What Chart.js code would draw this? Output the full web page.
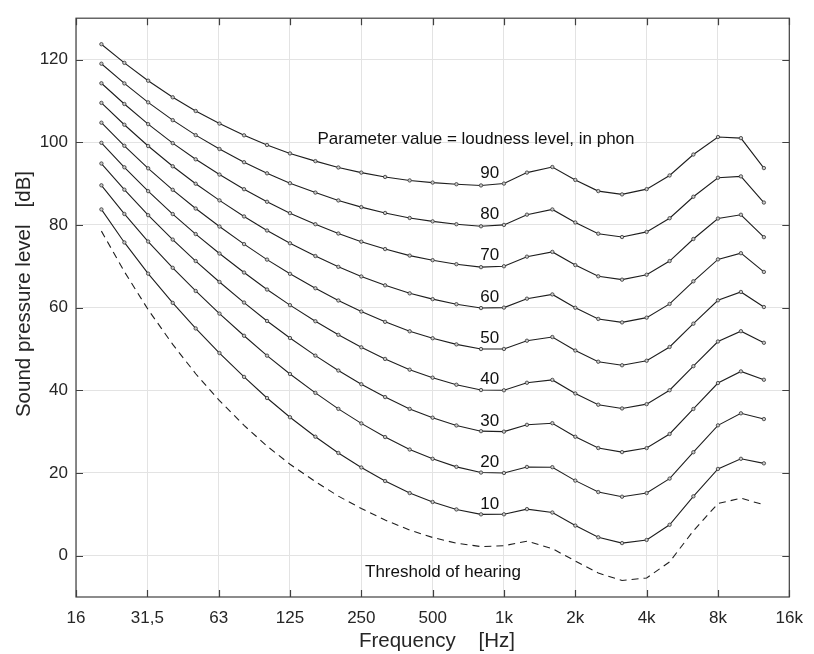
<!DOCTYPE html>
<html>
<head>
<meta charset="utf-8">
<script src="https://cdn.jsdelivr.net/npm/chart.js@4/dist/chart.umd.min.js"></script>
<style>
  body { margin: 0; background: #fff; }
  #wrap { width: 814px; height: 654px; }
</style>
</head>
<body>
<div id="wrap"><canvas id="plot" width="814" height="654"></canvas></div>
<script>
// frequencias (terços de oitava)
const freqs = [20, 25, 31.5, 40, 50, 63, 80, 100, 125, 160, 200, 250, 315, 400, 500, 630, 800, 1000, 1250, 1600, 2000, 2500, 3150, 4000, 5000, 6300, 8000, 10000, 12500];

const phonLevels = [10, 20, 30, 40, 50, 60, 70, 80, 90];

const phon10 = [83.75, 75.76, 68.21, 61.14, 54.96, 49.01, 43.24, 38.13, 33.48, 28.77, 24.84, 21.33, 18.05, 15.14, 12.98, 11.18, 9.99, 10.0, 11.26, 10.43, 7.27, 4.45, 3.04, 3.80, 7.46, 14.35, 20.98, 23.43, 22.33];
const phon20 = [89.58, 82.65, 75.98, 69.62, 64.02, 58.55, 53.19, 48.38, 43.94, 39.37, 35.51, 31.99, 28.69, 25.67, 23.43, 21.48, 20.10, 20.0, 21.46, 21.40, 18.15, 15.38, 14.26, 15.14, 18.64, 25.02, 31.52, 34.43, 33.04];
const phon30 = [94.85, 88.52, 82.36, 76.45, 71.26, 66.20, 61.22, 56.76, 52.64, 48.38, 44.78, 41.47, 38.36, 35.50, 33.37, 31.49, 30.11, 30.0, 31.65, 32.04, 28.76, 26.03, 25.05, 26.02, 29.43, 35.48, 41.75, 44.57, 42.55];
const phon40 = [99.85, 93.94, 88.17, 82.63, 77.79, 73.08, 68.48, 64.37, 60.59, 56.70, 53.41, 50.40, 47.58, 44.98, 43.05, 41.34, 40.06, 40.0, 41.82, 42.51, 39.23, 36.51, 35.61, 36.65, 40.01, 45.83, 51.80, 54.29, 51.49];
const phon50 = [104.72, 99.14, 93.69, 88.49, 83.96, 79.61, 75.36, 71.61, 68.17, 64.68, 61.72, 59.04, 56.55, 54.27, 52.59, 51.10, 49.98, 50.0, 51.99, 52.88, 49.62, 46.91, 46.05, 47.15, 50.48, 56.11, 61.76, 63.78, 60.14];
const phon60 = [109.51, 104.23, 99.08, 94.18, 89.96, 85.94, 82.05, 78.65, 75.56, 72.47, 69.86, 67.53, 65.39, 63.45, 62.05, 60.82, 59.89, 60.0, 62.16, 63.19, 59.96, 57.26, 56.42, 57.57, 60.89, 66.36, 71.66, 73.16, 68.63];
const phon70 = [114.26, 109.25, 104.38, 99.78, 95.87, 92.18, 88.64, 85.60, 82.85, 80.17, 77.92, 75.94, 74.16, 72.58, 71.47, 70.50, 69.78, 70.0, 72.32, 73.47, 70.28, 67.58, 66.76, 67.95, 71.26, 76.59, 81.54, 82.46, 77.04];
const phon80 = [118.99, 114.23, 109.65, 105.34, 101.72, 98.36, 95.17, 92.48, 90.09, 87.82, 85.92, 84.31, 82.89, 81.68, 80.86, 80.17, 79.67, 80.0, 82.48, 83.74, 80.59, 77.88, 77.07, 78.31, 81.62, 86.81, 91.41, 91.74, 85.41];
const phon90 = [123.71, 119.20, 114.88, 110.87, 107.55, 104.51, 101.67, 99.33, 97.29, 95.43, 93.89, 92.65, 91.60, 90.76, 90.24, 89.84, 89.55, 90.0, 92.65, 94.00, 90.88, 88.18, 87.38, 88.66, 91.96, 97.02, 101.26, 100.99, 93.75];

// limiar de audição (tracejado)
const threshold = [78.5, 68.7, 59.5, 51.1, 44.0, 37.5, 31.5, 26.5, 22.1, 17.9, 14.4, 11.4, 8.6, 6.2, 4.4, 3.0, 2.2, 2.4, 3.5, 1.7, -1.3, -4.2, -6.0, -5.4, -1.5, 6.0, 12.6, 13.9, 12.3];

// eixos
const xTickValues = [15.625, 31.25, 62.5, 125, 250, 500, 1000, 2000, 4000, 8000, 16000];
const xTickLabels = ["16", "31,5", "63", "125", "250", "500", "1k", "2k", "4k", "8k", "16k"];
const yTickValues = [0, 20, 40, 60, 80, 100, 120];

const curves = [phon10, phon20, phon30, phon40, phon50, phon60, phon70, phon80, phon90];

const fonte = "'Liberation Sans', Arial, sans-serif";
const corTexto = "#262626";

const datasets = curves.map((vals, i) => ({
  label: phonLevels[i] + " phon",
  data: freqs.map((f, j) => ({ x: f, y: vals[j] })),
  borderColor: "#1e1e1e",
  borderWidth: 1.1,
  pointRadius: 1.7,
  pointBackgroundColor: "#c8c8c8",
  pointBorderColor: "#333",
  pointBorderWidth: 0.8,
  tension: 0,
}));

datasets.push({
  label: "Threshold of hearing",
  data: freqs.map((f, j) => ({ x: f, y: threshold[j] })),
  borderColor: "#1e1e1e",
  borderWidth: 1.1,
  borderDash: [7, 5],
  pointRadius: 0,
  tension: 0,
});

// moldura, marcas internas e textos
const extras = {
  id: "extras",
  afterDatasetsDraw(chart) {
    const ctx = chart.ctx;
    const a = chart.chartArea;
    const sx = chart.scales.x;
    const sy = chart.scales.y;
    ctx.save();
    ctx.fillStyle = "#111";
    ctx.textAlign = "center";
    ctx.textBaseline = "middle";
    ctx.font = "17px " + fonte;
    phonLevels.forEach((p) => {
      ctx.fillText(String(p), sx.getPixelForValue(870), sy.getPixelForValue(p) - 10.5);
    });
    ctx.font = "17px " + fonte;
    ctx.fillText("Parameter value = loudness level, in phon", 476, 139);
    ctx.fillText("Threshold of hearing", 443, 572);

    ctx.strokeStyle = "#404040";
    ctx.lineWidth = 1.2;
    ctx.strokeRect(a.left, a.top, a.right - a.left, a.bottom - a.top);
    ctx.beginPath();
    xTickValues.forEach((v) => {
      const px = Math.round(sx.getPixelForValue(v)) + 0.5;
      ctx.moveTo(px, a.bottom); ctx.lineTo(px, a.bottom - 7);
      ctx.moveTo(px, a.top); ctx.lineTo(px, a.top + 7);
    });
    yTickValues.forEach((v) => {
      const py = Math.round(sy.getPixelForValue(v)) + 0.5;
      ctx.moveTo(a.left, py); ctx.lineTo(a.left + 7, py);
      ctx.moveTo(a.right, py); ctx.lineTo(a.right - 7, py);
    });
    ctx.stroke();

    // titulos dos eixos
    ctx.fillStyle = corTexto;
    ctx.font = "20.5px " + fonte;
    ctx.fillText("Frequency    [Hz]", 437, 641);
    ctx.translate(24, 294);
    ctx.rotate(-Math.PI / 2);
    ctx.fillText("Sound pressure level   [dB]", 0, 0);
    ctx.restore();
  },
};

new Chart(document.getElementById("plot"), {
  type: "line",
  data: { datasets: datasets },
  options: {
    responsive: false,
    animation: false,
    layout: { padding: { left: 0, top: 12, right: 16, bottom: 0 } },
    plugins: { legend: { display: false }, tooltip: { enabled: false } },
    scales: {
      x: {
        type: "logarithmic",
        min: 15.625,
        max: 16000,
        afterBuildTicks: (s) => { s.ticks = xTickValues.map((v) => ({ value: v })); },
        afterFit: (s) => { s.height = 57; },
        ticks: {
          autoSkip: false,
          maxRotation: 0,
          padding: 11,
          color: corTexto,
          font: { family: fonte, size: 17 },
          callback: (v) => { const i = xTickValues.indexOf(v); return i >= 0 ? xTickLabels[i] : ""; },
        },
        grid: { color: "#e3e3e3", lineWidth: 1, drawTicks: false },
        border: { display: false },
      },
      y: {
        min: -10,
        max: 130,
        afterBuildTicks: (s) => { s.ticks = yTickValues.map((v) => ({ value: v })); },
        afterFit: (s) => { s.width = 76; },
        ticks: {
          padding: 8,
          color: corTexto,
          font: { family: fonte, size: 17 },
        },
        grid: { color: "#e3e3e3", lineWidth: 1, drawTicks: false },
        border: { display: false },
      },
    },
  },
  plugins: [extras],
});
</script>
</body>
</html>
